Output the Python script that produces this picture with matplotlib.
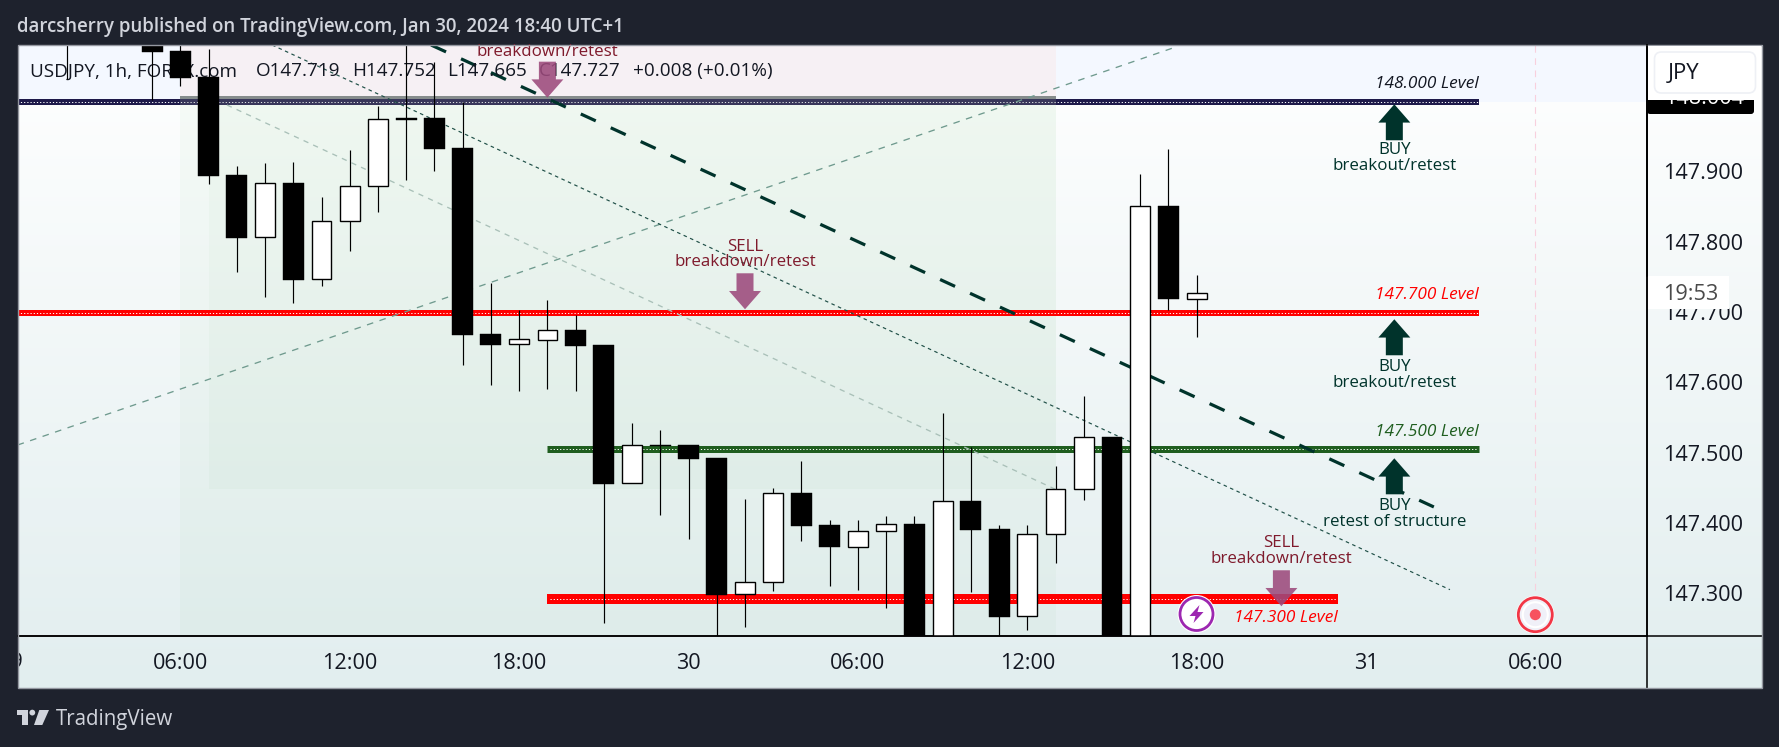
import numpy as np
import matplotlib
matplotlib.use("Agg")
import matplotlib.pyplot as plt
from matplotlib.patches import Rectangle, Polygon, Circle, FancyBboxPatch
from matplotlib.transforms import Affine2D, Bbox
from matplotlib.colors import LinearSegmentedColormap

W, H = 1779, 747
FONT = "Open Sans"
plt.rcParams["font.family"] = [FONT, "DejaVu Sans"]

# ---------- data ----------
hours = [2, 5, 6, 7, 8, 9, 10, 11, 12, 13, 14, 15, 16, 17, 18, 19, 20, 21, 22, 23, 24,
         25, 26, 27, 28, 29, 30, 31, 32, 33, 34, 35, 36, 37, 38, 39, 40, 41, 42]
opens = [148.12, 148.10, 148.0711, 148.0346, 147.8948, 147.8062, 147.8834, 147.7464, 147.8289, 147.8787,
         147.9758, 147.9758, 147.9332, 147.6687, 147.6540, 147.6607, 147.6744, 147.6531, 147.4564, 147.5109,
         147.5109, 147.4924, 147.2986, 147.3156, 147.4427, 147.3972, 147.3664, 147.3882, 147.3986, 147.21,
         147.4313, 147.3915, 147.2673, 147.3839, 147.4479, 147.5223, 147.20, 147.8507, 147.719]
highs = [148.15, 148.14, 148.09, 148.0735, 147.9076, 147.9114, 147.9128, 147.864, 147.9303, 147.9929,
         148.09, 148.0559, 147.9990, 147.7408, 147.7028, 147.7171, 147.6957, 147.6531, 147.5417, 147.5322,
         147.5109, 147.4924, 147.4341, 147.4493, 147.4877, 147.4043, 147.4043, 147.41, 147.41, 147.5564,
         147.5076, 147.3972, 147.3972, 147.4810, 147.5806, 147.5223, 147.8962, 147.9318, 147.752]
lows = [148.0308, 148.0014, 148.0213, 147.8820, 147.7573, 147.7218, 147.7133, 147.7374, 147.7872, 147.8427,
        147.8877, 147.9005, 147.6251, 147.5967, 147.5882, 147.5910, 147.5882, 147.2583, 147.4564, 147.4118,
        147.3773, 147.22, 147.2526, 147.3038, 147.3749, 147.3109, 147.3047, 147.2791, 147.18, 147.19,
        147.3021, 147.22, 147.2483, 147.3436, 147.4332, 147.19, 147.19, 147.7028, 147.665]
closes = [148.10, 148.0701, 148.0332, 147.8938, 147.8057, 147.8829, 147.7455, 147.8289, 147.8787, 147.9739,
          147.9735, 147.9322, 147.6678, 147.6536, 147.6611, 147.6739, 147.6517, 147.4559, 147.5104, 147.5095,
          147.4915, 147.2981, 147.3156, 147.4422, 147.3962, 147.3664, 147.3882, 147.3981, 147.20, 147.4308,
          147.3905, 147.2668, 147.3839, 147.4479, 147.5218, 147.21, 147.8502, 147.7190, 147.727]

price_ticks = [147.3, 147.4, 147.5, 147.6, 147.7, 147.8, 147.9]
time_ticks = [6, 12, 18, 24, 30, 36, 42, 48, 54]
time_labels = ["06:00", "12:00", "18:00", "30", "06:00", "12:00", "18:00", "31", "06:00"]

# level: price, start hour, end hour, colour, width px, label, label colour
level_prices = [147.9985, 147.699, 147.5047, 147.2919]
level_starts = [0.0, 0.0, 19.0, 19.0]
level_ends = [52.0, 52.0, 52.0, 47.0]
level_colors = ["#1e1a4a", "#ff0000", "#1f5e1f", "#ff0000"]
level_widths = [6, 6, 7, 10]
level_labels = ["148.000 Level", "147.700 Level", "147.500 Level", "147.300 Level"]
level_label_colors = ["#131722", "#ff0000", "#1f5e1f", "#ff0000"]

thick_h, thick_p = [14.88, 50.40], [148.0796, 147.4227]
thin_h, thin_p = [9.25, 50.97], [148.0796, 147.3051]
faint_h, faint_p = [7.65, 36.97], [147.9943, 147.4483]
rise_h, rise_p = [0.234, 41.29], [147.5108, 148.0772]

sell_arrow_h, sell_arrow_p = [19.0, 26.0, 45.0], [148.0047, 147.7038, 147.2815]
buy_arrow_h, buy_arrow_p = [49.0, 49.0, 49.0], [147.9953, 147.6896, 147.4919]

# ---------- figure ----------
fig = plt.figure(figsize=(W / 100, H / 100), dpi=100, facecolor="#1e222d")
px = Affine2D().scale(1, -1).translate(0, H)

PANE_L, PANE_T, PANE_R, PANE_B = 17.6, 45.0, 1762.0, 688.0
PLOT_R, PLOT_B = 1647.0, 636.3

def frac(x0, y0, x1, y1):
    return [x0 / W, 1 - y1 / H, (x1 - x0) / W, (y1 - y0) / H]

bg = fig.add_axes(frac(PANE_L, PANE_T, PANE_R, PANE_B), zorder=-1)
cmap = LinearSegmentedColormap.from_list("tvbg", ["#ffffff", "#e2eeef"])
bg.imshow(np.linspace(0, 1, 256).reshape(-1, 1), aspect="auto", cmap=cmap, extent=(0, 1, 0, 1))
bg.axis("off")
bg.add_patch(Rectangle((PANE_L, PANE_T), PLOT_R - PANE_L, 57, transform=px, color="#f4f8ff", lw=0, zorder=2))

ax = fig.add_axes(frac(PANE_L, PANE_T, PLOT_R, PLOT_B), zorder=1)
ax.patch.set_alpha(0)
ax.set_xlim(0.234, 57.95)
ax.set_ylim(147.2388, 148.0796)
XP = 1 / 28.23
YP = 1 / 703.3

# position tool
ax.add_patch(Rectangle((6, 147.9943), 31, 0.2, color="#f6f0f4", lw=0, zorder=0.4))
ax.add_patch(Rectangle((6, 147.0), 31, 0.9943, color="#4caf50", alpha=0.035, lw=0, zorder=0.5))
ax.add_patch(Rectangle((7, 147.4483), 30, 0.5467, color="#4caf50", alpha=0.035, lw=0, zorder=0.6))
ax.add_patch(Rectangle((6, 147.9943), 31, 0.0128, color="#868c8c", lw=0, zorder=0.7))

# levels
for p, s, e, c, w_ in zip(level_prices, level_starts, level_ends, level_colors, level_widths):
    ax.plot([s, e], [p, p], color=c, lw=w_ * 0.72, solid_capstyle="butt", zorder=2)
    ax.plot([s + 0.1, e - 0.05], [p, p], color="white", lw=0.72, dashes=(1.2, 2.0), zorder=2.1)
ax.add_patch(Rectangle((6, 147.9943), 31, 0.0128, color="#868c8c", alpha=0.25, lw=0, zorder=2.2))

# trend lines
ax.plot(rise_h, rise_p, color="#6f9a8e", lw=0.95, dashes=(5, 5), zorder=2.3)
ax.plot(faint_h, faint_p, color="#a9c0b8", lw=0.95, dashes=(4, 4), zorder=2.3)
ax.plot(thin_h, thin_p, color="#1f4f47", lw=0.85, dashes=(3, 3), zorder=2.3)
ax.plot(thick_h, thick_p, color="#00332b", lw=2.3, dashes=(5.16, 5.16), dash_capstyle="butt", zorder=2.4)
ax.plot([54, 54], [147.305, 148.2], color="#f8d0dd", lw=0.8, dashes=(6, 5), zorder=0.8)

# legend (below candles)
legend_items = [("USDJPY, 1h, FOREX.com", 30), ("O147.719", 256), ("H147.752", 352), ("L147.665", 447),
                ("C147.727", 539), ("+0.008 (+0.01%)", 633)]
for s, x in legend_items:
    ax.text(x, 71.3, s, transform=px, fontsize=13.6, color="#131722", va="center", ha="left", zorder=3)

# candles
o, hi, lo, c_ = map(np.array, (opens, highs, lows, closes))
hr = np.array(hours)
up = c_ >= o
ax.vlines(hr, lo, hi, color="black", lw=0.85, zorder=4)
ax.bar(hr[up], (c_ - o)[up], bottom=o[up], width=0.7, color="white", edgecolor="black", lw=1.0, zorder=4.2)
ax.bar(hr[~up], (o - c_)[~up], bottom=c_[~up], width=0.74, color="black", edgecolor="black", lw=0.3, zorder=4.2)

# arrows
def arrow(h, tip, direction, color, alpha=1.0):
    hw, sw, hh, tot = 16 * XP, 8.5 * XP, 18.3 * YP, 36 * YP
    d = direction
    pts = [(h, tip), (h - hw, tip + d * hh), (h - sw, tip + d * hh), (h - sw, tip + d * tot),
           (h + sw, tip + d * tot), (h + sw, tip + d * hh), (h + hw, tip + d * hh)]
    ax.add_patch(Polygon(pts, closed=True, color=color, alpha=alpha, lw=0, zorder=5))

for h_, p_ in zip(sell_arrow_h, sell_arrow_p):
    arrow(h_, p_, 1, "#9c4a7c", 0.88)
for h_, p_ in zip(buy_arrow_h, buy_arrow_p):
    arrow(h_, p_, -1, "#00332b")

def note(h, p, dy, s, color):
    ax.annotate(s, xy=(h, p), xytext=(0, dy), textcoords="offset pixels", ha="center", va="center",
                fontsize=12.2, color=color, zorder=6)

RED = "#7f1a2c"
GRN = "#00332b"
note(sell_arrow_h[0], sell_arrow_p[0], 46, "breakdown/retest", RED)
note(sell_arrow_h[1], sell_arrow_p[1], 62.6, "SELL", RED)
note(sell_arrow_h[1], sell_arrow_p[1], 47, "breakdown/retest", RED)
note(sell_arrow_h[2], sell_arrow_p[2], 63, "SELL", RED)
note(sell_arrow_h[2], sell_arrow_p[2], 47, "breakdown/retest", RED)
note(buy_arrow_h[0], buy_arrow_p[0], -45.7, "BUY", GRN)
note(buy_arrow_h[0], buy_arrow_p[0], -62, "breakout/retest", GRN)
note(buy_arrow_h[1], buy_arrow_p[1], -47.4, "BUY", GRN)
note(buy_arrow_h[1], buy_arrow_p[1], -64, "breakout/retest", GRN)
note(buy_arrow_h[2], buy_arrow_p[2], -48, "BUY", GRN)
note(buy_arrow_h[2], buy_arrow_p[2], -64, "retest of structure", GRN)

label_dy = [18, 17.5, 17, -19]
for p, e, s, c, dy in zip(level_prices, level_ends, level_labels, level_label_colors, label_dy):
    ax.annotate(s, xy=(e, p), xytext=(0, dy), textcoords="offset pixels", ha="right", va="center",
                fontsize=12.4, style="italic", color=c, zorder=6)

# icons
ic = dict(transform=px, clip_on=False)
ax.add_patch(Circle((1196.5, 614), 19, fc="white", ec="none", zorder=7, **ic))
ax.add_patch(Circle((1196.5, 614), 16.5, fc="white", ec="#9c27b0", lw=2.0, zorder=7.1, **ic))
bolt = [(3, -9), (-7, 2), (-1, 2), (-3, 9), (7, -2), (1, -2)]
ax.add_patch(Polygon([(1196.5 + a, 614 + b) for a, b in bolt], closed=True, fc="#9c27b0", ec="none", zorder=7.2, **ic))
ax.add_patch(Circle((1535.3, 614.7), 19, fc="white", ec="none", zorder=7, **ic))
ax.add_patch(Circle((1535.3, 614.7), 17, fc="#f0f0f8", ec="#f23645", lw=2.0, zorder=7.1, **ic))
ax.add_patch(Circle((1535.3, 614.7), 12.5, fc="none", ec="white", lw=1.5, zorder=7.15, **ic))
ax.add_patch(Circle((1535.3, 614.7), 5.5, fc="#f7525f", ec="none", zorder=7.2, **ic))

# axes
for s in ("top", "left"):
    ax.spines[s].set_visible(False)
for s in ("bottom", "right"):
    ax.spines[s].set_color("black")
    ax.spines[s].set_linewidth(1.1)
ax.yaxis.tick_right()
ax.set_yticks(price_ticks, [f"{t:.3f}" for t in price_ticks])
ax.set_xticks(time_ticks, time_labels)
ax.tick_params(axis="y", length=0, pad=11.5, labelsize=15.6, labelcolor="#131722")
ax.tick_params(axis="x", length=0, pad=12, labelsize=15.6, labelcolor="#131722")

# figure level items
fpx = Affine2D().scale(1, -1).translate(0, H)
t29 = fig.text(11, 662.3, "29", transform=fpx, ha="center", va="center", fontsize=15.6, color="#131722")
t29.set_clip_on(True)
t29.set_clip_box(Bbox([[PANE_L, 0], [W, H]]))
fig.add_artist(plt.Line2D([PANE_L, PANE_R], [PLOT_B, PLOT_B], color="black", lw=1.1, transform=fpx, zorder=5))
fig.add_artist(plt.Line2D([PLOT_R, PLOT_R], [PANE_T, PANE_B], color="black", lw=1.1, transform=fpx, zorder=5))
fig.add_artist(Rectangle((PANE_L, PANE_T), PANE_R - PANE_L, PANE_B - PANE_T, transform=fpx, fc="none",
                         ec="#9598a1", lw=1.0, zorder=6))
# price axis boxes
fig.add_artist(FancyBboxPatch((PLOT_R, 90), 107, 24, boxstyle="round,pad=0,rounding_size=3", transform=fpx,
                              fc="black", ec="none", zorder=7))
fig.add_artist(Rectangle((PLOT_R + 1, 46), PANE_R - PLOT_R - 2, 54, transform=fpx, fc="white", ec="none", zorder=7.1))
t = fig.text(1664, 98.2, "148.004", transform=fpx, color="white", fontsize=15.6, va="center", ha="left", zorder=7.05)
t.set_clip_on(True)
t.set_clip_box(Bbox([[PLOT_R, H - 114], [1754, H - 100]]))
fig.add_artist(FancyBboxPatch((1654.5, 52), 101, 41, boxstyle="round,pad=0,rounding_size=7", transform=fpx,
                              fc="white", ec="#eef0f5", lw=1.2, zorder=7.2))
fig.text(1668, 73.5, "JPY", transform=fpx, color="#131722", fontsize=16, va="center", ha="left", zorder=7.3)
fig.add_artist(Rectangle((PLOT_R + 0.5, 276), 81.5, 32.7, transform=fpx, fc="white", ec="none", zorder=7))
fig.text(1691, 295, "19:53", transform=fpx, color="#4a4a4a", fontsize=15.6, va="center", ha="center", zorder=7.3)
fig.add_artist(plt.Line2D([PLOT_R, PLOT_R], [PANE_T, 276], color="black", lw=1.1, transform=fpx, zorder=7.4))

# header & footer
fig.text(17, 26.7, "darcsherry published on TradingView.com, Jan 30, 2024 18:40 UTC+1", transform=fpx,
         color="#d1d4dc", fontsize=13.4, fontweight=600, va="center", ha="left")
LOGO = "#d1d4dc"
fig.add_artist(Polygon([(16.7, 710), (28.3, 710), (28.3, 725), (22.3, 725), (22.3, 715), (16.7, 715)], closed=True,
                       transform=fpx, fc=LOGO, ec="none"))
fig.add_artist(Circle((32.3, 712.6), 2.9, transform=fpx, fc=LOGO, ec="none"))
fig.add_artist(Polygon([(39.3, 710), (49, 710), (42.3, 725), (34, 725)], closed=True, transform=fpx, fc=LOGO, ec="none"))
fig.text(56, 719, "TradingView", transform=fpx, color=LOGO, fontsize=14.8, va="center", ha="left")

fig.savefig("out.png", dpi=100, facecolor=fig.get_facecolor())
